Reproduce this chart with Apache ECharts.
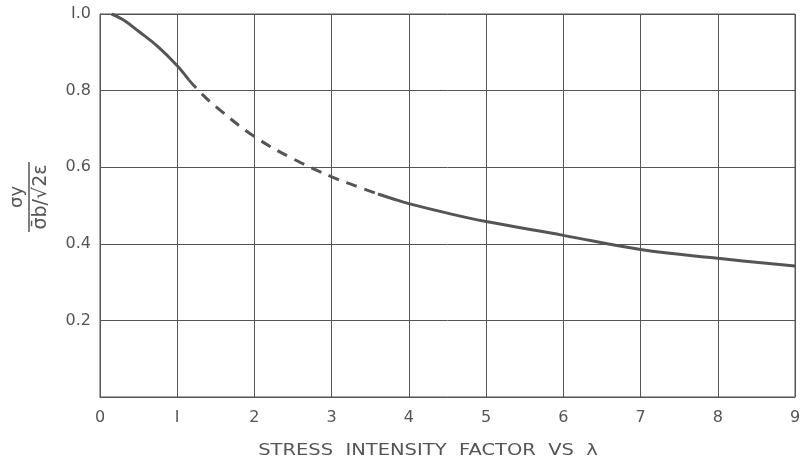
<!DOCTYPE html>
<html>
<head>
<meta charset="utf-8">
<script src="https://cdn.jsdelivr.net/npm/echarts@6/dist/echarts.min.js"></script>
<style>
	html, body { margin: 0; padding: 0; background: #fff; }
	#main { width: 811px; height: 463px; }
</style>
</head>
<body>
<div id="main"></div>
<script>
// curve: solid / dashed / solid parts
var solidAX = [0.15, 0.3, 0.5, 0.75, 1.0, 1.15];
var solidAY = [1.0, 0.985, 0.955, 0.915, 0.865, 0.828];
var dashX = [1.15, 1.3, 1.5, 2.0, 2.5, 3.0, 3.3, 3.6];
var dashY = [0.828, 0.795, 0.758, 0.68, 0.622, 0.575, 0.552, 0.530];
var solidBX = [3.6, 3.8, 4.0, 4.5, 5.0, 6.0, 7.0, 8.0, 9.0];
var solidBY = [0.530, 0.517, 0.505, 0.480, 0.458, 0.422, 0.385, 0.362, 0.342];
var yTicks = ['0.2', '0.4', '0.6', '0.8', 'I.0'];
var xTitle = 'STRESS  INTENSITY  FACTOR  VS  λ';

function pairs(xs, ys) {
	var out = [];
	for (var i = 0; i < xs.length; i++) {
		out.push([xs[i], ys[i]]);
	}
	return out;
}

var ink = '#555';
var font = 'DejaVu Sans';
var chart = echarts.init(document.getElementById('main'));

function lineSeries(xs, ys, dashed) {
	return {
		type: 'line',
		data: pairs(xs, ys),
		smooth: 0.4,
		symbol: 'none',
		lineStyle: {
			color: ink,
			width: 3,
			type: dashed ? [11, 8] : 'solid'
		},
		z: 5
	};
}

var option = {
	animation: false,
	grid: {
		left: 100,
		right: 16,
		top: 14,
		bottom: 66,
		show: true,
		borderColor: ink,
		borderWidth: 1
	},
	xAxis: {
		type: 'value',
		min: 0,
		max: 9,
		interval: 1,
		axisLine: { show: true, lineStyle: { color: ink, width: 1 } },
		axisTick: { show: false },
		splitLine: { show: true, lineStyle: { color: ink, width: 1 } },
		axisLabel: {
			margin: 13,
			color: '#555',
			fontFamily: font,
			fontSize: 16,
			formatter: function(v) { return v === 1 ? 'I' : String(v); }
		}
	},
	yAxis: {
		type: 'value',
		min: 0,
		max: 1,
		interval: 0.2,
		axisLine: { show: true, lineStyle: { color: ink, width: 1 } },
		axisTick: { show: false },
		splitLine: { show: true, lineStyle: { color: ink, width: 1 } },
		axisLabel: {
			margin: 9,
			color: '#555',
			fontFamily: font,
			fontSize: 16,
			formatter: function(v) {
				var i = Math.round(v / 0.2) - 1;
				return i >= 0 ? yTicks[i] : '';
			}
		}
	},
	graphic: [{
		type: 'text',
		x: 428,
		y: 451,
		scaleX: 1.3,
		style: {
			text: xTitle,
			fill: '#555',
			font: '15px "DejaVu Sans"',
			align: 'center',
			verticalAlign: 'middle'
		}
	}, {
		// rotated fraction: numerator on the left, denominator on the right
		type: 'group',
		x: 29,
		y: 197,
		rotation: Math.PI / 2,
		children: [{
			type: 'line',
			shape: { x1: -35, y1: 0, x2: 35, y2: 0 },
			style: { stroke: ink, lineWidth: 1.5 }
		}, {
			type: 'text',
			x: 0,
			y: -3,
			style: {
				text: 'σy',
				fill: '#555',
				font: '18px "DejaVu Sans"',
				align: 'center',
				verticalAlign: 'bottom'
			}
		}, {
			type: 'text',
			x: 0,
			y: 3,
			style: {
				text: 'σ̄b/√2ε',
				fill: '#555',
				font: '19px "DejaVu Sans"',
				align: 'center',
				verticalAlign: 'top'
			}
		}]
	}],
	series: [
		lineSeries(solidAX, solidAY, false),
		lineSeries(dashX, dashY, true),
		lineSeries(solidBX, solidBY, false)
	]
};
chart.setOption(option);
</script>
</body>
</html>
